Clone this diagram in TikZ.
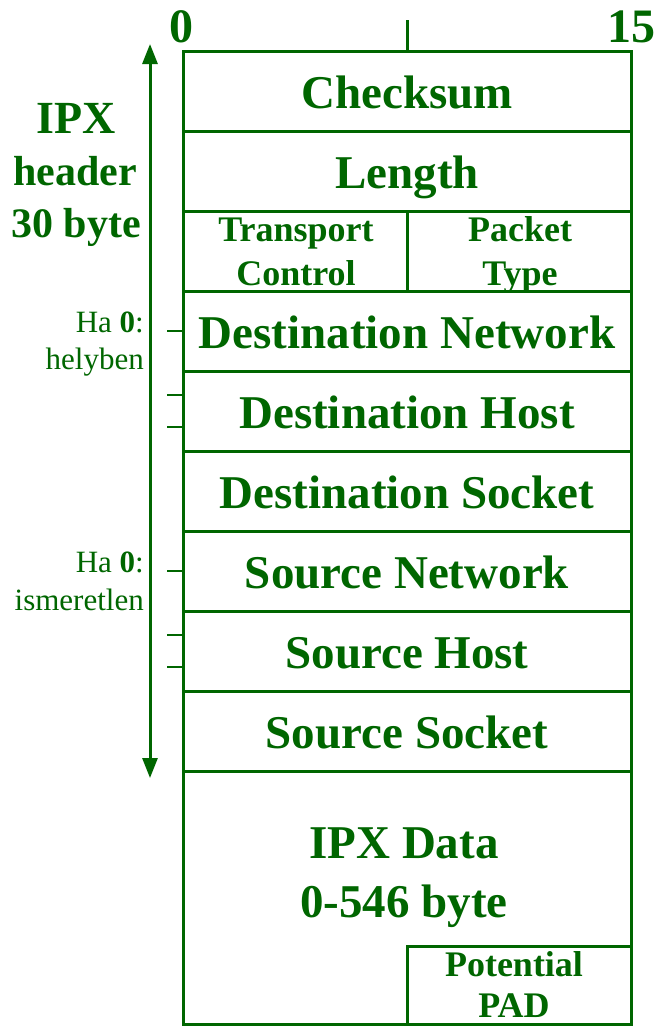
\documentclass[tikz,border=0pt]{standalone}
\usepackage{fontspec}
\setmainfont{Liberation Serif}
\usetikzlibrary{arrows.meta}
\definecolor{ipxgreen}{RGB}{0,102,0}
\begin{document}
\begin{tikzpicture}[x=1pt,y=-1pt,
  frame/.style={draw=ipxgreen,line width=3pt},
  big/.style={anchor=base,inner sep=0pt,text=ipxgreen,font=\fontsize{47}{56}\selectfont\bfseries},
  mid/.style={anchor=base,inner sep=0pt,text=ipxgreen,font=\fontsize{36}{42}\selectfont\bfseries},
  side/.style={anchor=base,inner sep=0pt,text=ipxgreen,font=\fontsize{42}{50}\selectfont\bfseries},
  note/.style={anchor=base east,inner sep=0pt,text=ipxgreen,font=\fontsize{31}{38}\selectfont},
  tick/.style={draw=ipxgreen,line width=2.5pt}]
\useasboundingbox (0,0) rectangle (656,1026);
% outer frame
\draw[frame] (183,1026) -- (183,51) -- (631,51) -- (631,1026);
\draw[frame] (183,1024) -- (631,1024);
% row lines
\foreach \yy in {131,211,291,371,451,531,611,691,771}
  \draw[frame] (183,\yy) -- (631,\yy);
\draw[frame] (407,211) -- (407,291);
\draw[frame] (407,1024) -- (407,946) -- (631,946);
% top tick
\draw[frame] (407,20) -- (407,51);
\node[big,font=\fontsize{48}{56}\selectfont\bfseries] (n0) at (181,42) {0};
\node[big,font=\fontsize{48}{56}\selectfont\bfseries] (n15) at (631,42) {15};
% fields
\node[big] (cks) at (407,108) {Checksum};
\node[big] (len) at (407,188) {Length};
\node[mid] (tc1) at (296,241) {Transport};
\node[mid] (tc2) at (296,285) {Control};
\node[mid] (pt1) at (520,241) {Packet};
\node[mid] (pt2) at (520,285) {Type};
\node[big] (dn) at (407,348) {Destination Network};
\node[big] (dh) at (407,428) {Destination Host};
\node[big] (ds) at (407,508) {Destination Socket};
\node[big] (sn) at (407,588) {Source Network};
\node[big] (sh) at (407,668) {Source Host};
\node[big] (ss) at (407,748) {Source Socket};
\node[big] (d1) at (404,858) {IPX Data};
\node[big] (d2) at (404,917) {0-546 byte};
\node[mid] (p1) at (514,976) {Potential};
\node[mid] (p2) at (514,1017) {PAD};
% left arrow
\coordinate (atop) at (150,44);
\coordinate (abot) at (150,778);
\draw[draw=ipxgreen,fill=ipxgreen,line width=3pt,{Triangle[width=15pt,length=20pt]}-{Triangle[width=15pt,length=20pt]}] (atop) -- (abot);
% left label
\node[side,font=\fontsize{46}{50}\selectfont\bfseries] (l1) at (76,133) {IPX};
\node[side] (l2) at (75,185) {header};
\node[side] (l3) at (76,237) {30 byte};
% notes
\node[note] (h1) at (144,332) {Ha \textbf{0}:};
\node[note] (h2) at (144,369) {helyben};
\node[note] (h3) at (144,572) {Ha \textbf{0}:};
\node[note] (h4) at (144,610) {ismeretlen};
% side ticks
\foreach \yy in {331,395,427,571,635,667}
  \draw[tick] (167,\yy) -- (183,\yy);
\end{tikzpicture}
\end{document}
